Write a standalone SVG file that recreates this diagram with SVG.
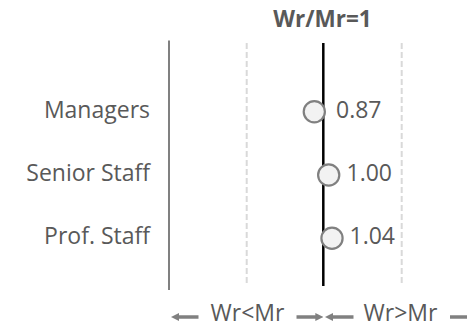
<svg xmlns="http://www.w3.org/2000/svg" width="467" height="327" viewBox="0 0 467 327">
<style>
text{font-family:"Open Sans","Liberation Sans",sans-serif;fill:#595959;font-size:23px}
.lbl{text-anchor:end}
.val{text-anchor:start}
.title{font-weight:bold;text-anchor:middle;font-size:22.5px}
.mid{text-anchor:middle}
.dot{fill:#f2f2f2;stroke:#808080;stroke-width:2.2}
.dash{stroke:#d9d9d9;stroke-width:2;stroke-dasharray:6 3;fill:none}
.arr{stroke:#808080;stroke-width:3.5;fill:none;marker-end:url(#ah)}
</style>
<defs>
<marker id="ah" viewBox="0 0 8 8" refX="2" refY="4" markerWidth="8" markerHeight="8" orient="auto" markerUnits="userSpaceOnUse">
<path d="M0,0 L8,4 L0,8 z" fill="#808080"/>
</marker>
</defs>
<rect width="467" height="327" fill="#ffffff"/>
<g id="connectors">
<line x1="169" y1="40.5" x2="169" y2="290" stroke="#808080" stroke-width="2"/>
<line class="dash" x1="246.7" y1="43" x2="246.7" y2="286"/>
<line class="dash" x1="401.7" y1="43" x2="401.7" y2="286"/>
<line x1="323.3" y1="43" x2="323.3" y2="286" stroke="#000000" stroke-width="2.5"/>
<path class="arr" d="M198.5,317 H177"/>
<path class="arr" d="M296.5,317 H317.3"/>
<path class="arr" d="M353.5,317 H331"/>
<path class="arr" d="M450,317 H472"/>
</g>
<g id="title"><text class="title" x="322.5" y="26.5">Wr/Mr=1</text></g>
<g id="managers">
<text class="lbl" x="150" y="117.5">Managers</text>
<circle class="dot" cx="314.3" cy="111.7" r="10.6"/>
<text class="val" x="336" y="117.5">0.87</text>
</g>
<g id="senior-staff">
<text class="lbl" x="150" y="180.5">Senior Staff</text>
<circle class="dot" cx="328.7" cy="175" r="10.6"/>
<text class="val" x="346.5" y="180.5">1.00</text>
</g>
<g id="prof-staff">
<text class="lbl" x="150" y="243.5">Prof. Staff</text>
<circle class="dot" cx="332" cy="238.3" r="10.6"/>
<text class="val" x="349.5" y="243.5">1.04</text>
</g>
<g id="direction-labels">
<text class="mid" x="247.5" y="320.7">Wr&lt;Mr</text>
<text class="mid" x="400.5" y="320.7">Wr&gt;Mr</text>
</g>
</svg>
